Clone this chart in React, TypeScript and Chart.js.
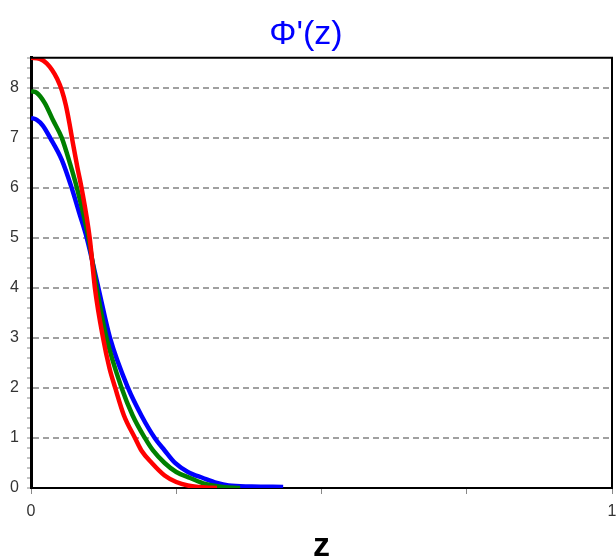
import React, { useEffect, useRef } from "react";
import { Chart, registerables } from "chart.js";

Chart.register(...registerables);

const chartTitle = "Φ'(z)";
const xAxisTitle = "z";
const yTickLabels = ["0", "1", "2", "3", "4", "5", "6", "7", "8"];
const xTickLabels = ["0", "1"];

const redZ = [0, 0.015, 0.027, 0.036, 0.045, 0.053, 0.06, 0.066, 0.072, 0.08, 0.087, 0.101, 0.11, 0.124, 0.135, 0.145, 0.16, 0.179, 0.19, 0.208, 0.23, 0.25, 0.27, 0.3, 0.32];
const redPhi = [8.6, 8.58, 8.49, 8.36, 8.18, 7.95, 7.65, 7.3, 6.9, 6.4, 6.0, 5.0, 4.0, 3.0, 2.4, 2.0, 1.45, 1.0, 0.75, 0.5, 0.25, 0.12, 0.05, 0.01, 0.0];

const greenZ = [0, 0.01, 0.024, 0.038, 0.053, 0.067, 0.079, 0.099, 0.113, 0.13, 0.156, 0.175, 0.196, 0.21, 0.23, 0.25, 0.274, 0.3, 0.33, 0.36];
const greenPhi = [7.93, 7.9, 7.69, 7.35, 7.0, 6.49, 6.0, 5.0, 4.0, 3.0, 2.0, 1.45, 1.0, 0.75, 0.5, 0.32, 0.2, 0.08, 0.02, 0.0];

const blueZ = [0, 0.01, 0.02, 0.033, 0.053, 0.07, 0.083, 0.096, 0.116, 0.136, 0.167, 0.19, 0.213, 0.23, 0.248, 0.27, 0.296, 0.32, 0.34, 0.38, 0.434];
const bluePhi = [7.4, 7.36, 7.25, 7.0, 6.56, 6.0, 5.5, 5.0, 4.0, 3.0, 2.0, 1.45, 1.0, 0.75, 0.5, 0.32, 0.2, 0.1, 0.05, 0.03, 0.02];

const seriesColors = ["#ff0000", "#008000", "#0000ff"];

const toPoints = (xs: number[], ys: number[]) => xs.map((x, i) => ({ x, y: ys[i] }));
const isInt = (v: number) => Math.abs(v - Math.round(v)) < 1e-6;

const framePlugin = {
  id: "frame",
  afterDraw(chart: any) {
    const { ctx, chartArea } = chart;
    ctx.save();
    ctx.strokeStyle = "#000";
    ctx.lineWidth = 2;
    ctx.beginPath();
    ctx.moveTo(chartArea.left, chartArea.top);
    ctx.lineTo(chartArea.right, chartArea.top);
    ctx.lineTo(chartArea.right, chartArea.bottom);
    ctx.stroke();
    ctx.restore();
  },
};

export default function App() {
  const ref = useRef<HTMLCanvasElement>(null);
  useEffect(() => {
    document.body.style.margin = "0";
    const font = "'Liberation Sans', Arial, sans-serif";
    const chart = new Chart(ref.current!, {
      type: "line",
      data: {
        datasets: [
          { data: toPoints(redZ, redPhi), borderColor: seriesColors[0] },
          { data: toPoints(greenZ, greenPhi), borderColor: seriesColors[1] },
          { data: toPoints(blueZ, bluePhi), borderColor: seriesColors[2] },
        ].map((d) => ({
          ...d,
          borderWidth: 4.5,
          pointRadius: 0,
          fill: false,
          cubicInterpolationMode: "monotone" as const,
        })),
      },
      options: {
        animation: false,
        responsive: false,
        layout: { padding: { left: 0, right: 4, top: 0, bottom: 0 } },
        plugins: {
          legend: { display: false },
          tooltip: { enabled: false },
          title: {
            display: true,
            text: chartTitle,
            color: "#0000ff",
            font: { family: font, size: 34, weight: "normal", lineHeight: 1.2 },
            padding: { top: 14, bottom: 3 },
          },
        },
        scales: {
          x: {
            type: "linear",
            min: 0,
            max: 1,
            afterFit: (s: any) => {
              s.height = 72;
              s.paddingRight = 0;
              s.paddingLeft = 0;
            },
            ticks: {
              stepSize: 0.25,
              autoSkip: false,
              maxRotation: 0,
              padding: 8,
              color: "#333",
              font: { family: font, size: 16 },
              callback: (v: any) => {
                const n = Number(v);
                if (isInt(n)) return xTickLabels[Math.round(n)] ?? "";
                return "";
              },
            },
            grid: {
              color: "rgba(0,0,0,0)",
              tickColor: "#888",
              tickLength: 6,
              drawOnChartArea: false,
            },
            border: { color: "#000", width: 2 },
            title: {
              display: true,
              text: xAxisTitle,
              color: "#000",
              font: { family: font, size: 34, weight: "bold" },
              padding: { top: 0, bottom: -7 },
            },
          },
          y: {
            type: "linear",
            min: 0,
            max: 8.6,
            afterFit: (s: any) => {
              s.width = 31;
              s.paddingTop = 0;
              s.paddingBottom = 0;
            },
            ticks: {
              stepSize: 0.2,
              autoSkip: false,
              maxTicksLimit: 100,
              padding: 8,
              color: "#333",
              font: { family: font, size: 16 },
              callback: (v: any) => {
                const n = Number(v);
                if (isInt(n)) return yTickLabels[Math.round(n)] ?? "";
                return "";
              },
            },
            grid: {
              color: (c: any) => (c.tick && isInt(c.tick.value) && c.tick.value > 0 ? "#a0a0a0" : "rgba(0,0,0,0)"),
              tickColor: "#888",
              tickLength: 4,
              lineWidth: 2,
              tickWidth: 1,
            },
            border: { color: "#000", width: 3, dash: [6, 4] as any },
          },
        },
      },
      plugins: [framePlugin],
    });
    return () => chart.destroy();
  }, []);
  return <canvas ref={ref} width={616} height={560} />;
}
